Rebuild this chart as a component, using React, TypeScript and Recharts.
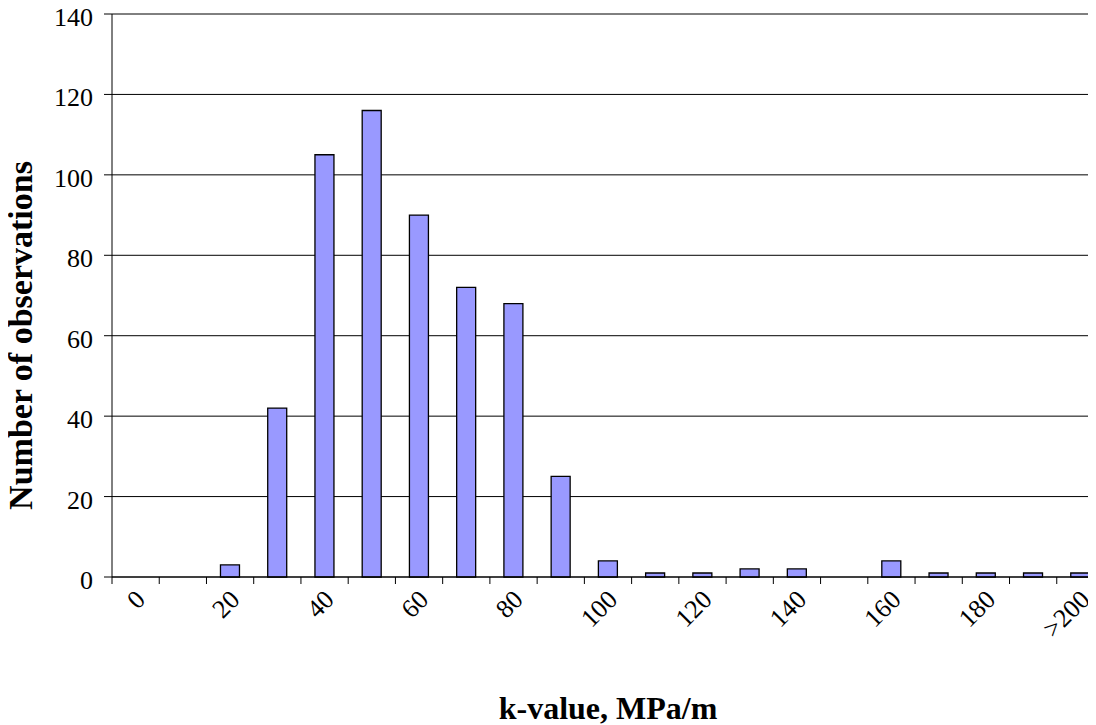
import React from "react";
import { BarChart, Bar, XAxis, YAxis, CartesianGrid, Label } from "recharts";

// k-value classes (MPa/m) and number of observations in each
const kClasses = [
  "0", "10", "20", "30", "40", "50", "60", "70", "80", "90", "100",
  "110", "120", "130", "140", "150", "160", "170", "180", "190", ">200",
];
const observations = [
  0, 0, 3, 42, 105, 116, 90, 72, 68, 25, 4, 1, 1, 2, 2, 0, 4, 1, 1, 1, 1,
];
const yTicks = [0, 20, 40, 60, 80, 100, 120, 140];

const FONT = '"Liberation Serif", "Times New Roman", serif';

const data = kClasses.map((k, i) => ({ k, count: observations[i] }));

// class-boundary tick marks plus every other rotated label
const KTick = (props: any) => {
  const { x, y, payload, index } = props;
  const half = payload && payload.offset ? payload.offset : 23.6;
  const axisY = y - 7;
  const lx = x + 11;
  const ly = axisY + 24;
  return (
    <g>
      {index === 0 && (
        <line x1={x - half} x2={x - half} y1={axisY} y2={axisY + 7} stroke="#000" />
      )}
      <line x1={x + half} x2={x + half} y1={axisY} y2={axisY + 7} stroke="#000" />
      {index % 2 === 0 && (
        <text
          x={lx}
          y={ly}
          textAnchor="end"
          transform={`rotate(-45, ${lx}, ${ly})`}
          fontFamily={FONT}
          fontSize={26}
          fill="#000"
        >
          {payload.value}
        </text>
      )}
    </g>
  );
};

const YTick = (props: any) => {
  const { x, y, payload } = props;
  return (
    <text
      x={x}
      y={y}
      dy={12}
      textAnchor="end"
      fontFamily={FONT}
      fontSize={26}
      fill="#000"
    >
      {payload.value}
    </text>
  );
};

export default function App() {
  return (
    <div
      style={{
        position: "relative",
        top: -8,
        left: -8,
        width: 1096,
        height: 725,
        overflow: "hidden",
      }}
    >
      <BarChart
        width={1108}
        height={725}
        data={data}
        margin={{ top: 14, right: 4, left: 0, bottom: 0 }}
        barSize={19}
      >
        <CartesianGrid vertical={false} stroke="#000" />
        <XAxis
          dataKey="k"
          interval={0}
          height={148}
          tickSize={7}
          tickMargin={0}
          tickLine={{ stroke: "none" }}
          axisLine={{ stroke: "#000" }}
          tick={<KTick />}
        >
          <Label
            content={(p: any) => {
              const vb = p.viewBox;
              return (
                <text
                  x={vb.x + vb.width / 2}
                  y={vb.y + 142}
                  textAnchor="middle"
                  fontFamily={FONT}
                  fontSize={32}
                  fontWeight="bold"
                  fill="#000"
                >
                  k-value, MPa/m
                </text>
              );
            }}
          />
        </XAxis>
        <YAxis
          width={112}
          domain={[0, 140]}
          ticks={yTicks}
          interval={0}
          tickSize={8}
          tickMargin={11}
          tickLine={{ stroke: "#000" }}
          axisLine={{ stroke: "#000" }}
          tick={<YTick />}
        >
          <Label
            content={(p: any) => {
              const vb = p.viewBox;
              const cx = 20;
              const cy = vb.y + vb.height / 2 + 40;
              return (
                <text
                  x={cx}
                  y={cy}
                  textAnchor="middle"
                  dominantBaseline="central"
                  transform={`rotate(-90, ${cx}, ${cy})`}
                  fontFamily={FONT}
                  fontSize={34}
                  fontWeight="bold"
                  fill="#000"
                >
                  Number of observations
                </text>
              );
            }}
          />
        </YAxis>
        <Bar
          dataKey="count"
          fill="#9999FF"
          stroke="#000"
          strokeWidth={1.3}
          isAnimationActive={false}
        />
      </BarChart>
    </div>
  );
}
